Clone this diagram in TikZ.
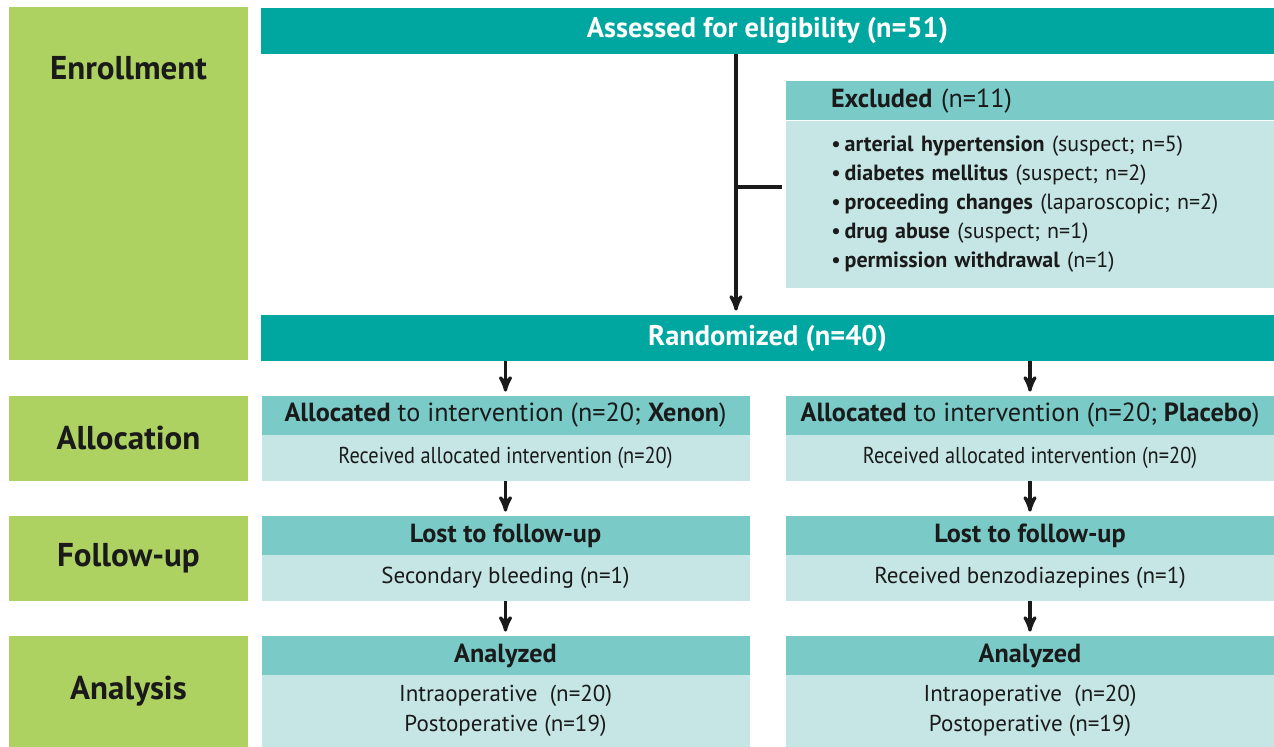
\documentclass[tikz,border=0pt]{standalone}
\usepackage{fontspec}
\setmainfont{PT Sans}
\usetikzlibrary{arrows}
\usetikzlibrary{positioning}
\definecolor{stagegreen}{HTML}{AED261}
\definecolor{darkteal}{HTML}{00A7A1}
\definecolor{midteal}{HTML}{7ACAC8}
\definecolor{lightteal}{HTML}{C6E6E6}
\definecolor{inktext}{HTML}{1A1A1A}
\newcommand{\narrowtxt}[1]{\scalebox{0.885}[1]{#1}}

\begin{document}
\begin{tikzpicture}[x=0.5pt,y=-0.5pt,>=stealth',shorten >=2pt,
    stage node/.style={fill=stagegreen,inner sep=0pt,minimum width=119.5pt},
    stage text/.style={font=\fontsize{16.5}{19}\selectfont\bfseries,text=inktext},
    main node/.style={fill=darkteal,text=white,inner sep=0pt,minimum width=506.5pt,minimum height=23pt,font=\fontsize{14.2}{16}\selectfont\bfseries},
    head node/.style={fill=midteal,text=inktext,inner sep=0pt,minimum width=244pt,minimum height=19.5pt,font=\fontsize{13.1}{15}\selectfont},
    body node/.style={fill=lightteal,text=inktext,inner sep=0pt,minimum width=244pt,font=\fontsize{11.5}{15}\selectfont,align=center},
    flow/.style={->,line width=1.6pt,inktext}]
   \useasboundingbox (0,0) rectangle (1274,747);
   % stage column
   \node[stage node,minimum height=176.5pt] (enrol) at (128.5,183.5) {};
   \node[stage text] (enroltxt) at (128.5,68) {Enrollment};
   \node[stage node,minimum height=42.5pt,stage text] (alloc) at (128.5,438.5) {Allocation};
   \node[stage node,minimum height=42.5pt,stage text] (follow) at (128.5,558.5) {Follow-up};
   \node[stage node,minimum height=55.5pt,stage text] (analys) at (128.5,691.5) {Analysis};
   % enrollment
   \node[main node] (assess) at (767.5,31) {Assessed for eligibility (n=51)};
   \node[main node] (random) at (767.5,338) {Randomized (n=40)};
   \node[head node,align=left,inner xsep=22.5pt,text width=199pt] (exclh) at (1030,101) {\textbf{Excluded} (n=11)};
   \node[body node,minimum height=83.5pt,align=left,inner xsep=22.5pt,text width=199pt,font=\fontsize{11}{14.5}\selectfont] (exclb) at (1030,204.5)
     {\textbullet\,\textbf{arterial hypertension} (suspect; n=5)\\
      \textbullet\,\textbf{diabetes mellitus} (suspect; n=2)\\
      \textbullet\,\textbf{proceeding changes} (laparoscopic; n=2)\\
      \textbullet\,\textbf{drug abuse} (suspect; n=1)\\
      \textbullet\,\textbf{permission withdrawal} (n=1)};
   \coordinate (split) at (736,187);
   % left arm
   \node[head node] (allocL) at (505.5,415.5) {\textbf{Allocated} to intervention (n=20; \textbf{Xenon})};
   \node[body node,minimum height=23pt] (recvL) at (505.5,458) {\narrowtxt{Received allocated intervention (n=20)}};
   \node[head node] (lostL) at (505.5,535.5) {\textbf{Lost to follow-up}};
   \node[body node,minimum height=23pt] (reasonL) at (505.5,578) {Secondary bleeding (n=1)};
   \node[head node] (anaL) at (505.5,655.5) {\textbf{Analyzed}};
   \node[body node,minimum height=36pt] (countL) at (505.5,711) {Intraoperative\ \ (n=20)\\Postoperative (n=19)};
   % right arm
   \node[head node] (allocR) at (1030,415.5) {\textbf{Allocated} to intervention (n=20; \textbf{Placebo})};
   \node[body node,minimum height=23pt] (recvR) at (1030,458) {\narrowtxt{Received allocated intervention (n=20)}};
   \node[head node] (lostR) at (1030,535.5) {\textbf{Lost to follow-up}};
   \node[body node,minimum height=23pt] (reasonR) at (1030,578) {Received benzodiazepines (n=1)};
   \node[head node] (anaR) at (1030,655.5) {\textbf{Analyzed}};
   \node[body node,minimum height=36pt] (countR) at (1030,711) {Intraoperative\ \ (n=20)\\Postoperative (n=19)};
   % connectors
   \draw[flow] (split |- assess.south) -- (split |- random.north);
   \draw[line width=1.6pt,inktext] (split) -- (split -| exclb.west);
   \draw[flow] (random.south -| allocL.north) -- (allocL.north);
   \draw[flow] (random.south -| allocR.north) -- (allocR.north);
   \draw[flow] (recvL) -- (lostL);
   \draw[flow] (recvR) -- (lostR);
   \draw[flow] (reasonL) -- (anaL);
   \draw[flow] (reasonR) -- (anaR);
\end{tikzpicture}
\end{document}
